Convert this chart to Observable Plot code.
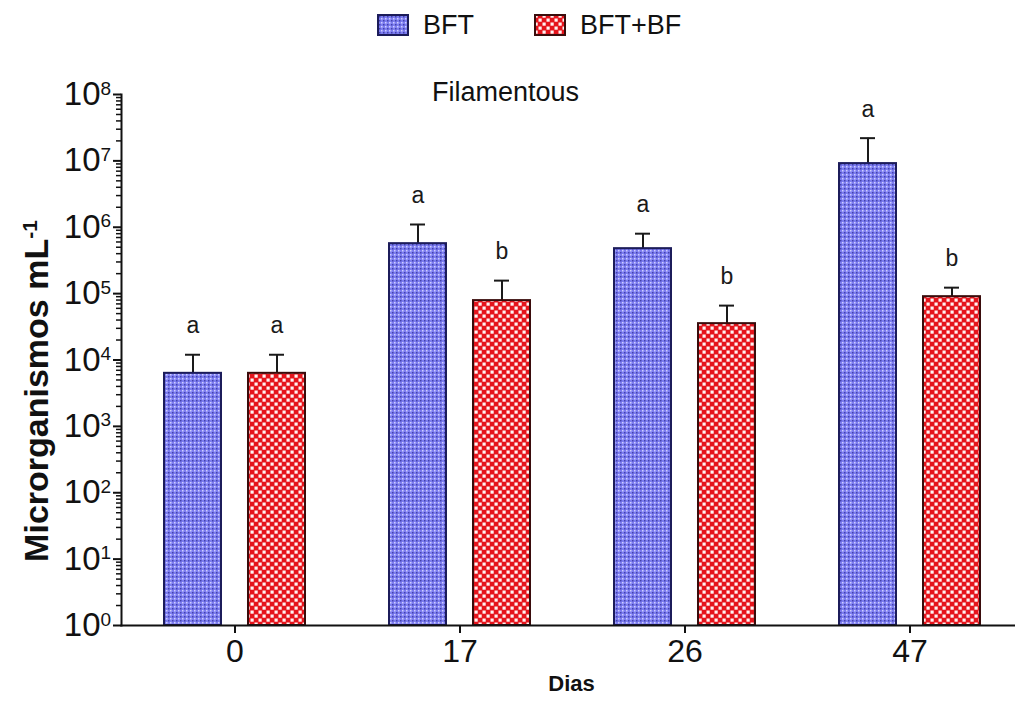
<!DOCTYPE html>
<html>
<head>
<meta charset="utf-8">
<script src="https://cdn.jsdelivr.net/npm/d3@7"></script>
<script src="https://cdn.jsdelivr.net/npm/@observablehq/plot@0.6"></script>
<style>
  html, body { margin: 0; padding: 0; background: #fff; }
  body { width: 1015px; height: 705px; overflow: hidden; font-family: "Liberation Sans", Arial, sans-serif; color: #111; }
  #legend { height: 50px; display: flex; align-items: center; padding-left: 377px; font-size: 27px; }
  #legend svg { display: block; }
  #legend span { margin-left: 14px; }
</style>
</head>
<body>
<svg width="0" height="0" style="position:absolute">
  <defs>
    <pattern id="bluePat" patternUnits="userSpaceOnUse" width="4" height="4">
      <rect width="4" height="4" fill="#7d7df0"/>
      <rect x="0" y="0" width="1.5" height="1.5" fill="#cfcfff"/>
      <rect x="2" y="2" width="1.5" height="1.5" fill="#4242ac"/>
    </pattern>
    <pattern id="redPat" patternUnits="userSpaceOnUse" width="8" height="8">
      <rect width="8" height="8" fill="#e5141c"/>
      <rect x="0.5" y="0.5" width="3.2" height="3.2" fill="#fff3f3"/>
      <rect x="4.5" y="4.5" width="3.2" height="3.2" fill="#fff3f3"/>
    </pattern>
  </defs>
</svg>
<div id="legend">
  <svg width="32" height="22"><rect x="1" y="1" width="30" height="20" fill="url(#bluePat)" stroke="#1c1c5a" stroke-width="2"/></svg>
  <span>BFT</span>
  <svg width="32" height="22" style="margin-left:60px"><rect x="1" y="1" width="30" height="20" fill="url(#redPat)" stroke="#3a0c0c" stroke-width="2"/></svg>
  <span>BFT+BF</span>
</div>
<div id="chart"></div>
<script>
// ---- data ----
const days = ["0", "17", "26", "47"];
const bftMean = [6300, 566000, 476000, 9100000];
const bftUpper = [12000, 1100000, 800000, 22000000];
const bftLetters = ["a", "a", "a", "a"];
const bfMean = [6300, 78500, 35300, 90000];
const bfUpper = [12000, 157000, 66000, 123000];
const bfLetters = ["a", "b", "b", "b"];
const yTickValues = [1, 10, 100, 1e3, 1e4, 1e5, 1e6, 1e7, 1e8];
const yTickExponents = ["0", "1", "2", "3", "4", "5", "6", "7", "8"];

const bft = days.map((d, i) => ({day: d, value: bftMean[i], upper: bftUpper[i], letter: bftLetters[i]}));
const bf = days.map((d, i) => ({day: d, value: bfMean[i], upper: bfUpper[i], letter: bfLetters[i]}));
const yTicks = yTickValues.map((v, i) => ({v, e: yTickExponents[i]}));
const minorTicks = [];
for (let k = 0; k < 8; k++) for (let m = 2; m <= 9; m++) minorTicks.push(m * Math.pow(10, k));

const off = 42;      // half distance between paired bar centres
const barInset = 84; // (225 - 57) / 2
const capInset = 105;

function seriesMarks(data, dx, fill, stroke) {
  return [
    Plot.ruleX(data, {x: "day", y1: "value", y2: "upper", dx, stroke: "#1a1a1a", strokeWidth: 2}),
    Plot.tickY(data, {x: "day", y: "upper", dx, insetLeft: capInset, insetRight: capInset, stroke: "#1a1a1a", strokeWidth: 2}),
    Plot.barY(data, {x: "day", y1: 1, y2: "value", dx, insetLeft: barInset, insetRight: barInset, fill, stroke, strokeWidth: 2}),
    Plot.text(data, {x: "day", y: "upper", text: "letter", dx, dy: -29, fontSize: 23, fill: "#1a1a1a"})
  ];
}

const chart = Plot.plot({
  width: 1015,
  height: 655,
  marginTop: 44,
  marginBottom: 80,
  marginLeft: 121,
  marginRight: 0,
  style: {fontFamily: "'Liberation Sans', Arial, sans-serif", color: "#111", background: "transparent", overflow: "visible"},
  x: {type: "band", domain: days, range: [121.5, 1021.5], padding: 0},
  y: {type: "log", domain: [1, 1e8]},
  marks: [
    ...seriesMarks(bft, -off, "url(#bluePat)", "#1c1c5a"),
    ...seriesMarks(bf, off, "url(#redPat)", "#3a0c0c"),
    Plot.axisY({ticks: minorTicks, tickSize: 5, tickFormat: () => "", label: null, strokeWidth: 1.5}),
    Plot.axisY({ticks: yTickValues, tickSize: 8, tickFormat: () => "", label: null, strokeWidth: 2}),
    Plot.text(yTicks, {y: "v", text: () => "10", frameAnchor: "left", textAnchor: "end", dx: -21, fontSize: 33}),
    Plot.text(yTicks, {y: "v", text: "e", frameAnchor: "left", textAnchor: "start", dx: -21, dy: -6, fontSize: 19}),
    Plot.axisX({tickSize: 8, tickPadding: 6, fontSize: 32, label: null, strokeWidth: 2}),
    Plot.frame({anchor: "left", strokeWidth: 2}),
    Plot.frame({anchor: "bottom", strokeWidth: 2}),
    Plot.text(["Filamentous"], {frameAnchor: "top", dx: -63, dy: -13, fontSize: 27}),
    Plot.text(["Dias"], {frameAnchor: "bottom", dx: 3, dy: 65, fontSize: 22, fontWeight: "bold"}),
    Plot.text(["Microrganismos mL"], {frameAnchor: "left", textAnchor: "middle", rotate: -90, dx: -84, dy: 31, fontSize: 34, fontWeight: "bold"})
  ]
});
document.getElementById("chart").appendChild(chart);

d3.select(chart).selectAll("text")
  .filter(function () { return this.textContent === "Microrganismos mL"; })
  .append("tspan")
  .attr("baseline-shift", "super")
  .attr("font-size", 21)
  .text("-1");
</script>
</body>
</html>
